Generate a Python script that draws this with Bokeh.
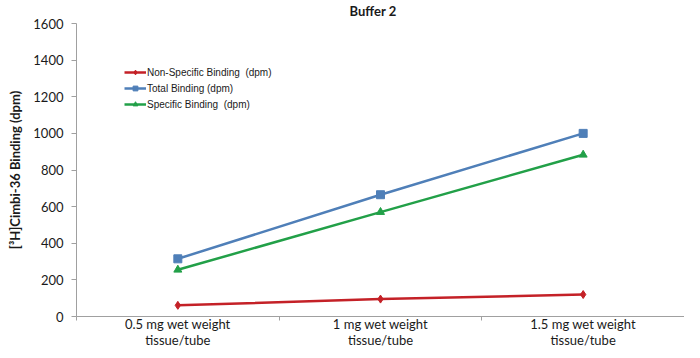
import numpy as np
from bokeh.plotting import figure
from bokeh.models import FixedTicker, Legend, LegendItem, Range1d
from bokeh.embed import file_html
from bokeh.resources import INLINE

categories = ["0.5 mg wet weight\ntissue/tube", "1 mg wet weight\ntissue/tube", "1.5 mg wet weight\ntissue/tube"]
non_specific = [61, 95, 120]
total = [315, 665, 1000]
specific = [255, 570, 883]
y_ticks = [0, 200, 400, 600, 800, 1000, 1200, 1400, 1600]

xpos = list(np.arange(len(categories)) + 0.5)

p = figure(width=680, height=355, output_backend="svg", toolbar_location=None,
           x_range=Range1d(0, len(categories)), y_range=Range1d(0, 1600),
           title="Buffer 2", min_border_left=0, min_border_right=0, min_border_bottom=0,
           min_border_top=25, margin=(-5, 0, 0, 4))

p.title.align = "left"
p.title.offset = 273
p.title.standoff = 10
p.title.text_font = "Lato"
p.title.text_font_style = "bold"
p.title.text_font_size = "13px"
p.title.text_color = "#1a1a1a"

p.outline_line_color = None
p.xgrid.grid_line_color = None
p.ygrid.grid_line_color = None
p.background_fill_color = "white"
p.border_fill_color = "white"

# x axis: labels at centers, ticks at boundaries (minor ticks)
p.xaxis.ticker = FixedTicker(ticks=xpos, minor_ticks=list(np.arange(len(categories) + 1)))
p.xaxis.major_label_overrides = {float(x): c for x, c in zip(xpos, categories)}
p.xaxis.axis_label = None
p.xaxis.axis_label_standoff = 0
p.xaxis.major_tick_line_color = None
p.xaxis.major_tick_out = 0
p.xaxis.minor_tick_out = 4
p.xaxis.minor_tick_in = 0
p.xaxis.minor_tick_line_color = "#a0a0a0"
p.xaxis.axis_line_color = "#a0a0a0"
p.xaxis.major_label_text_font = "Lato"
p.xaxis.major_label_text_font_size = "13px"
p.xaxis.major_label_text_color = "#1a1a1a"
p.xaxis.major_label_text_line_height = 1.0
p.xaxis.major_label_standoff = -5

p.yaxis.ticker = FixedTicker(ticks=y_ticks)
p.yaxis.minor_tick_line_color = None
p.yaxis.major_tick_out = 5
p.yaxis.major_tick_in = 0
p.yaxis.major_tick_line_color = "#a0a0a0"
p.yaxis.axis_line_color = "#a0a0a0"
p.yaxis.major_label_text_font = "Lato"
p.yaxis.major_label_text_font_size = "13px"
p.yaxis.major_label_text_color = "#1a1a1a"
p.yaxis.major_label_standoff = 8
p.yaxis.axis_label = "[³H]Cimbi-36 Binding (dpm)"
p.yaxis.axis_label_text_font = "Lato"
p.yaxis.axis_label_text_font_style = "bold"
p.yaxis.axis_label_text_font_size = "13px"
p.yaxis.axis_label_text_color = "#1a1a1a"
p.yaxis.axis_label_standoff = 7

red = "#C42127"
blue = "#4F7FB8"
green = "#22A048"

r1 = p.line(xpos, non_specific, line_color=red, line_width=2.5)
m1 = p.scatter(xpos, non_specific, marker="diamond", size=8, color=red)
r2 = p.line(xpos, total, line_color=blue, line_width=2.5)
m2 = p.scatter(xpos, total, marker="square", size=8, color=blue)
r3 = p.line(xpos, specific, line_color=green, line_width=2.5)
m3 = p.scatter(xpos, specific, marker="triangle", size=8, color=green)

legend = Legend(items=[
    LegendItem(label="Non-Specific Binding  (dpm)", renderers=[r1, m1]),
    LegendItem(label="Total Binding (dpm)", renderers=[r2, m2]),
    LegendItem(label="Specific Binding  (dpm)", renderers=[r3, m3]),
], location=(48, 206))
legend.border_line_color = None
legend.background_fill_alpha = 0
legend.label_text_font = "Liberation Sans"
legend.label_text_font_size = "10px"
legend.label_text_color = "#1a1a1a"
legend.glyph_width = 22
legend.glyph_height = 12
legend.label_standoff = 1
legend.spacing = 4
legend.padding = 0
legend.margin = 0
legend.label_height = 12
p.add_layout(legend)

open("out.html", "w").write(file_html(p, INLINE))
